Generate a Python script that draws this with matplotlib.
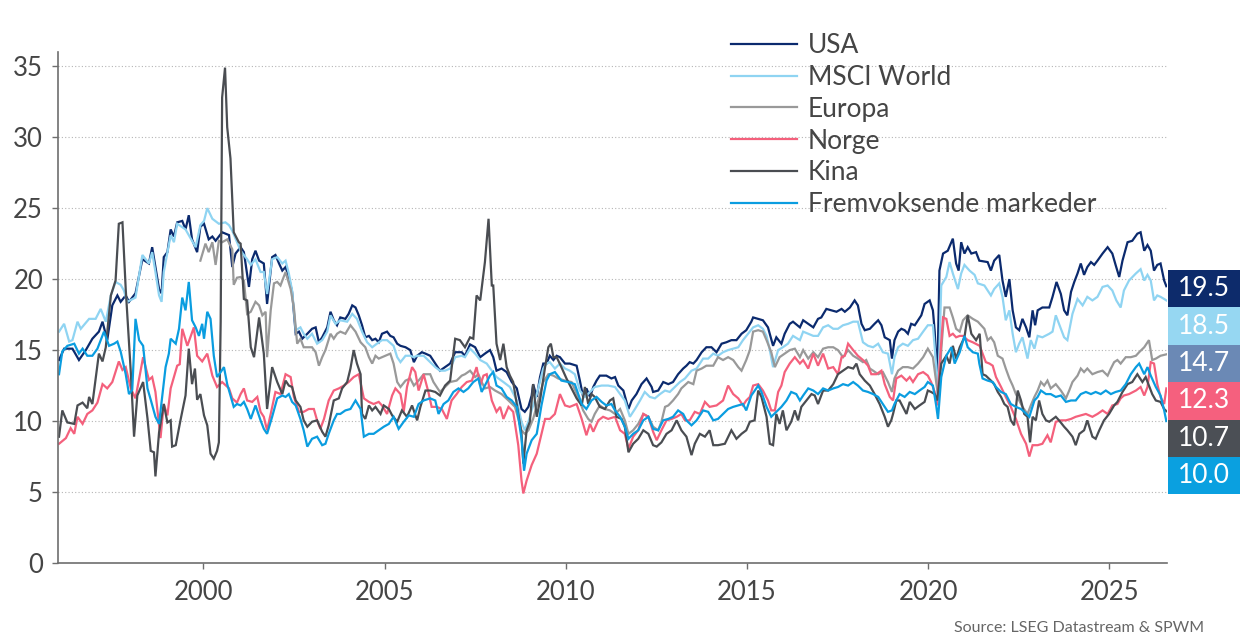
import numpy as np
import matplotlib
matplotlib.use("Agg")
import matplotlib.pyplot as plt
from matplotlib.patches import Rectangle
from matplotlib.lines import Line2D

plt.rcParams['font.family'] = ['Lato', 'DejaVu Sans']
plt.rcParams['font.weight'] = 'normal'

# series: (decimal year, P/E)
usa = [(1996.02,14.3),(1996.16,15.1),(1996.39,15.1),(1996.57,14.3),(1996.76,15.0),(1996.94,15.8),(1997.12,16.3),(1997.22,17.0),(1997.35,15.7),(1997.49,18.15),(1997.63,18.85),(1997.72,18.4),(1997.86,18.85),(1997.95,18.4),(1998.13,19.0),(1998.32,21.4),(1998.50,21.1),(1998.59,22.25),(1998.68,20.85),(1998.78,19.3),(1998.85,19.0),(1998.91,21.55),(1999.01,21.9),(1999.10,23.5),(1999.19,23.0),(1999.28,24.0),(1999.42,24.1),(1999.51,23.5),(1999.60,24.5),(1999.69,22.8),(1999.83,21.9),(1999.92,23.7),(2000.02,23.9),(2000.15,22.8),(2000.25,23.0),(2000.34,22.7),(2000.52,23.3),(2000.71,23.1),(2000.80,20.85),(2000.89,21.8),
       (2001.03,22.25),(2001.12,21.9),(2001.26,19.45),(2001.35,21.4),(2001.44,22.0),(2001.54,21.3),(2001.67,21.1),(2001.76,18.25),(2001.90,21.55),(2001.99,21.7),(2002.09,21.1),(2002.18,20.6),(2002.27,20.85),(2002.36,20.15),(2002.45,19.1),(2002.55,16.15),(2002.64,16.3),(2002.73,15.8),(2002.87,16.15),(2003.00,16.5),(2003.10,16.6),(2003.19,15.55),(2003.28,15.9),(2003.42,16.6),(2003.51,17.7),(2003.60,17.1),(2003.69,16.75),(2003.78,17.3),(2003.92,17.2),(2004.01,17.55),(2004.11,18.15),(2004.20,18.0),(2004.29,17.45),(2004.38,16.75),(2004.47,15.9),(2004.57,16.0),(2004.66,15.7),(2004.75,15.8),(2004.84,15.55),(2004.93,16.15),(2005.07,16.3),(2005.16,16.0),(2005.25,15.9),(2005.35,15.45),(2005.44,15.3),(2005.58,15.2),(2005.71,15.0),(2005.81,14.15),(2005.90,14.6),(2006.03,14.85),(2006.13,14.75),
       (2006.26,14.6),(2006.40,14.05),(2006.53,13.55),(2006.67,13.8),(2006.81,14.05),(2006.95,14.85),(2007.13,14.85),(2007.22,14.6),(2007.36,15.4),(2007.50,15.2),(2007.64,14.5),(2007.77,14.75),(2007.91,15.0),(2008.00,14.5),(2008.09,13.55),(2008.23,13.7),(2008.37,13.45),(2008.51,12.75),(2008.65,12.3),(2008.78,10.85),(2008.87,10.65),(2008.97,11.0),(2009.06,11.8),(2009.10,12.6),(2009.20,11.7),(2009.29,13.1),(2009.38,14.05),(2009.47,14.05),(2009.56,14.6),(2009.66,14.3),(2009.75,14.6),(2009.84,14.5),(2009.98,14.05),(2010.11,14.05),(2010.30,13.9),(2010.39,12.85),(2010.48,11.7),(2010.57,12.3),(2010.67,11.7),(2010.76,12.4),(2010.85,12.85),(2010.94,13.2),(2011.12,13.2),(2011.26,13.0),
       (2011.36,13.1),(2011.45,12.5),(2011.59,12.15),(2011.73,10.85),(2011.82,11.45),(2011.95,11.9),(2012.09,12.6),(2012.23,13.0),(2012.37,12.4),(2012.41,12.05),(2012.55,12.15),(2012.69,12.75),(2012.83,12.6),(2012.96,12.75),(2013.10,13.3),(2013.24,13.7),(2013.33,13.9),(2013.42,14.15),(2013.52,14.05),(2013.61,14.3),(2013.75,14.85),(2013.88,15.2),(2014.02,15.2),(2014.16,14.85),(2014.30,15.45),(2014.43,15.55),(2014.57,15.7),(2014.71,15.7),(2014.85,16.15),(2014.98,16.4),(2015.12,17.0),(2015.17,17.3),(2015.31,17.2),(2015.44,17.1),(2015.58,16.6),(2015.72,15.3),(2015.81,15.9),(2015.95,15.45),(2016.04,16.15),(2016.18,16.85),(2016.27,17.0),
       (2016.46,16.6),(2016.55,17.1),(2016.69,16.85),(2016.83,16.6),(2016.96,17.2),(2017.05,17.3),(2017.19,17.9),(2017.33,17.8),(2017.47,17.7),(2017.61,17.9),(2017.70,17.7),(2017.84,18.0),(2017.97,18.5),(2018.06,18.15),(2018.16,16.85),(2018.25,16.4),(2018.39,16.5),(2018.52,16.85),(2018.62,17.1),(2018.71,16.75),(2018.80,15.9),(2018.94,15.7),(2019.00,14.4),(2019.07,15.7),(2019.17,16.3),(2019.26,16.5),(2019.35,16.4),(2019.44,16.15),(2019.53,16.85),(2019.63,16.75),(2019.72,17.1),(2019.81,17.45),(2019.90,18.25),(2020.04,18.5),(2020.13,17.8),(2020.18,16.3),(2020.25,12.85),(2020.31,20.6),(2020.41,21.8),(2020.54,22.0),(2020.68,22.85),(2020.77,21.1),(2020.84,20.6),(2020.91,22.6),(2021.00,21.8),(2021.09,22.25),(2021.19,21.8),(2021.32,21.9),
       (2021.41,21.3),(2021.64,21.2),(2021.73,20.6),(2021.82,21.3),(2021.96,21.7),(2022.05,19.9),(2022.14,18.75),(2022.24,20.0),(2022.33,17.8),(2022.42,16.6),(2022.51,16.4),(2022.60,17.2),(2022.70,16.6),(2022.79,15.9),(2022.88,17.8),(2022.95,16.75),(2023.02,17.8),(2023.15,18.0),(2023.34,18.0),(2023.43,18.75),(2023.54,19.8),(2023.66,18.95),(2023.75,17.8),(2023.84,17.45),(2023.94,19.1),(2024.03,19.8),(2024.12,20.4),(2024.21,21.1),(2024.30,20.3),(2024.39,20.85),(2024.49,21.2),(2024.58,21.0),(2024.67,21.3),(2024.81,21.8),(2024.95,22.25),(2025.08,21.8),(2025.17,21.0),(2025.27,20.15),(2025.36,21.3),(2025.50,22.6),(2025.63,22.7),(2025.77,23.2),(2025.86,23.3),(2025.96,22.0),(2026.05,22.4),(2026.14,22.0),(2026.23,20.6),(2026.32,21.0),(2026.41,21.1),(2026.51,19.9),(2026.57,19.5)]

msci_world = [(1996.02,16.3),(1996.16,16.85),(1996.30,15.6),(1996.39,15.7),(1996.53,17.0),(1996.62,16.5),(1996.85,17.2),(1997.03,17.2),(1997.17,17.9),(1997.31,17.0),(1997.45,18.85),(1997.58,19.8),(1997.72,19.6),(1997.81,19.2),(1997.90,18.4),(1998.13,18.7),(1998.32,21.7),(1998.50,21.1),(1998.59,21.9),(1998.68,20.5),(1998.78,18.85),(1998.85,18.4),(1998.91,20.5),(1999.10,23.1),(1999.19,22.6),(1999.28,23.9),(1999.51,23.5),(1999.69,22.7),(1999.79,22.25),(1999.92,23.8),(2000.02,24.1),(2000.11,25.0),(2000.25,24.25),(2000.43,23.9),(2000.61,24.0),(2000.71,23.8),(2000.80,23.4),(2000.93,22.6),
              (2001.03,22.0),(2001.21,21.4),(2001.31,21.0),(2001.44,21.4),(2001.58,20.5),(2001.67,20.5),(2001.76,18.95),(2001.90,21.4),(2002.04,21.55),(2002.18,21.1),(2002.27,21.3),(2002.36,20.4),(2002.45,19.2),(2002.55,16.4),(2002.68,16.6),(2002.77,16.15),(2002.87,15.8),(2003.00,16.15),(2003.14,15.45),(2003.28,15.7),(2003.42,16.3),(2003.51,17.45),(2003.65,16.85),(2003.78,17.1),(2003.97,17.0),(2004.11,17.55),(2004.24,17.2),(2004.38,16.3),(2004.52,15.55),(2004.66,15.2),(2004.79,15.45),(2004.93,15.7),(2005.07,15.7),(2005.25,15.3),(2005.35,14.5),(2005.44,14.15),(2005.58,14.6),(2005.71,14.6),(2005.81,14.5),(2005.90,14.6),(2006.08,14.6),
              (2006.26,14.15),(2006.40,13.8),(2006.53,13.55),(2006.67,13.55),(2006.81,13.7),(2006.95,14.5),(2007.13,14.6),(2007.22,14.5),(2007.36,15.1),(2007.50,14.75),(2007.64,14.3),(2007.82,14.05),(2007.96,13.55),(2008.09,13.1),(2008.28,12.75),(2008.46,12.4),(2008.65,11.45),(2008.78,9.95),(2008.87,9.35),(2008.97,9.95),(2009.06,10.75),(2009.20,11.9),(2009.38,13.7),(2009.47,14.05),(2009.56,14.15),(2009.70,13.7),(2009.84,14.05),(2009.98,13.7),(2010.11,13.55),(2010.25,13.3),(2010.39,12.15),(2010.53,11.7),(2010.67,12.05),(2010.80,12.4),(2010.99,12.5),(2011.17,12.5),
              (2011.36,12.4),(2011.50,11.9),(2011.63,11.45),(2011.77,10.3),(2011.91,10.85),(2012.05,11.45),(2012.18,12.05),(2012.32,11.7),(2012.46,11.6),(2012.60,11.9),(2012.74,12.15),(2012.87,12.05),(2013.01,12.4),(2013.15,12.75),(2013.29,13.0),(2013.47,13.55),(2013.61,13.7),(2013.79,14.4),(2013.93,14.4),(2014.07,14.75),(2014.20,14.6),(2014.34,14.85),(2014.48,15.0),(2014.62,15.1),(2014.76,15.2),(2014.89,15.7),(2015.03,16.15),(2015.17,16.6),(2015.31,16.75),(2015.44,16.5),(2015.54,16.0),(2015.63,15.0),(2015.72,13.8),(2015.86,15.0),(2015.99,15.2),(2016.13,15.45),(2016.27,16.0),
              (2016.46,15.7),(2016.55,16.3),(2016.69,16.15),(2016.83,16.0),(2016.96,16.0),(2017.10,16.6),(2017.24,16.75),(2017.38,16.5),(2017.51,16.5),(2017.65,16.75),(2017.79,16.85),(2017.93,17.0),(2018.06,17.0),(2018.20,15.55),(2018.34,15.3),(2018.48,15.2),(2018.62,15.45),(2018.75,14.85),(2018.89,14.75),(2019.00,13.3),(2019.07,14.5),(2019.17,15.2),(2019.30,15.45),(2019.44,15.3),(2019.58,15.7),(2019.72,15.8),(2019.86,16.3),(2019.99,16.75),(2020.13,16.75),(2020.22,13.9),(2020.27,11.5),(2020.36,19.55),(2020.50,20.15),(2020.59,21.2),(2020.68,20.4),(2020.82,19.3),(2020.91,20.4),(2021.00,21.0),(2021.14,20.6),(2021.28,20.3),(2021.37,19.7),
              (2021.55,19.55),(2021.73,18.85),(2021.82,19.3),(2021.96,19.7),(2022.05,18.75),(2022.14,17.1),(2022.24,17.8),(2022.33,16.15),(2022.42,14.85),(2022.51,15.45),(2022.60,15.9),(2022.74,14.4),(2022.83,15.7),(2022.93,15.1),(2023.02,16.0),(2023.15,15.9),(2023.34,16.15),(2023.43,16.3),(2023.52,17.45),(2023.61,16.85),(2023.75,15.9),(2023.84,15.7),(2023.98,17.55),(2024.12,18.6),(2024.26,18.15),(2024.39,18.75),(2024.53,18.5),(2024.67,18.75),(2024.81,19.45),(2024.95,19.55),(2025.08,19.2),(2025.19,18.5),(2025.31,18.0),(2025.40,19.2),(2025.54,19.9),(2025.73,20.4),(2025.86,20.7),(2025.96,19.9),(2026.05,20.3),(2026.14,19.9),(2026.23,18.5),(2026.32,18.85),(2026.41,18.75),(2026.51,18.6),(2026.57,18.5)]

europa = [(1999.92,21.3),(2000.06,22.5),(2000.15,21.9),(2000.25,22.6),(2000.34,21.0),(2000.43,22.7),(2000.52,22.6),(2000.66,22.8),(2000.80,22.1),(2000.84,19.6),(2000.93,20.1),
          (2001.03,20.15),(2001.12,19.9),(2001.21,17.55),(2001.31,17.7),(2001.44,18.4),(2001.54,18.15),(2001.63,17.45),(2001.72,17.7),(2001.76,14.5),(2001.86,17.8),(2001.95,19.7),(2002.04,19.8),(2002.13,19.55),(2002.27,20.5),(2002.41,19.3),(2002.50,18.0),(2002.59,15.45),(2002.68,15.8),(2002.77,15.2),(2003.00,15.2),(2003.10,14.85),(2003.19,13.9),(2003.28,14.5),(2003.37,15.0),(2003.51,16.15),(2003.60,15.8),(2003.69,16.15),(2003.78,16.3),(2003.92,16.15),(2004.06,16.75),(2004.20,16.3),(2004.34,15.55),(2004.47,15.2),(2004.57,14.5),(2004.66,14.05),(2004.75,14.6),(2004.84,14.4),(2004.93,14.5),(2005.02,14.6),(2005.16,14.75),(2005.25,14.05),(2005.35,12.75),(2005.44,12.4),(2005.58,12.85),(2005.71,13.0),(2005.81,12.5),(2005.94,12.85),(2006.08,13.3),
          (2006.26,13.3),(2006.35,12.75),(2006.53,12.05),(2006.67,12.4),(2006.81,12.75),(2006.99,12.85),(2007.13,13.2),(2007.22,13.3),(2007.36,13.55),(2007.50,13.1),(2007.59,13.3),(2007.68,12.75),(2007.77,12.3),(2007.91,12.4),(2008.05,12.15),(2008.23,11.9),(2008.42,11.45),(2008.60,11.0),(2008.78,9.35),(2008.87,9.1),(2008.97,9.35),(2009.10,10.15),(2009.24,11.45),(2009.38,12.75),(2009.52,13.3),(2009.66,13.2),(2009.79,13.0),(2009.98,12.85),(2010.16,12.75),(2010.34,11.7),(2010.48,10.75),(2010.62,10.15),(2010.71,9.95),(2010.80,10.5),(2010.94,11.1),(2011.08,10.85),(2011.22,10.75),
          (2011.36,10.5),(2011.50,10.85),(2011.63,10.05),(2011.73,9.1),(2011.86,9.35),(2012.00,9.8),(2012.14,10.5),(2012.28,10.3),(2012.41,9.6),(2012.55,9.35),(2012.64,9.95),(2012.74,11.0),(2012.83,11.1),(2012.96,11.45),(2013.10,11.9),(2013.19,12.3),(2013.38,12.75),(2013.52,12.6),(2013.61,13.55),(2013.75,13.7),(2013.88,13.9),(2014.07,13.9),(2014.20,14.5),(2014.34,14.3),(2014.48,14.5),(2014.62,14.3),(2014.76,13.8),(2014.85,13.55),(2014.98,14.3),(2015.08,15.0),(2015.17,16.3),(2015.31,16.4),(2015.44,16.3),(2015.54,15.7),(2015.67,14.85),(2015.77,13.8),(2015.90,14.5),(2016.04,14.75),(2016.18,15.0),(2016.32,15.1),
          (2016.46,14.5),(2016.55,15.0),(2016.69,14.4),(2016.83,14.85),(2016.96,14.5),(2017.10,15.1),(2017.24,15.2),(2017.38,15.2),(2017.51,15.0),(2017.65,14.5),(2017.79,15.0),(2017.93,14.6),(2018.06,14.4),(2018.20,14.15),(2018.29,14.3),(2018.39,13.7),(2018.48,13.55),(2018.62,13.3),(2018.75,13.45),(2018.89,12.75),(2019.00,12.05),(2019.07,13.0),(2019.17,13.55),(2019.30,13.8),(2019.44,13.8),(2019.58,13.7),(2019.72,14.05),(2019.86,14.5),(2019.99,15.1),(2020.13,14.5),(2020.22,12.75),(2020.29,11.45),(2020.36,15.0),(2020.45,18.0),(2020.59,18.0),(2020.68,17.3),(2020.77,16.5),(2020.87,16.3),(2020.96,17.1),(2021.09,17.45),(2021.23,17.2),(2021.37,17.0),
          (2021.55,16.5),(2021.64,15.7),(2021.73,15.9),(2021.82,15.55),(2021.92,14.6),(2022.05,14.4),(2022.14,13.7),(2022.24,13.0),(2022.33,12.5),(2022.42,11.9),(2022.51,11.45),(2022.60,11.0),(2022.74,10.5),(2022.83,11.1),(2022.93,11.7),(2023.02,12.15),(2023.11,12.75),(2023.20,12.5),(2023.29,12.85),(2023.38,12.3),(2023.52,12.6),(2023.66,12.15),(2023.80,11.6),(2023.89,12.15),(2023.98,12.75),(2024.12,13.2),(2024.21,13.7),(2024.30,13.45),(2024.39,13.7),(2024.53,13.3),(2024.67,13.45),(2024.81,13.55),(2024.95,13.2),(2025.04,13.7),(2025.13,14.15),(2025.22,14.3),(2025.31,14.05),(2025.45,14.5),(2025.59,14.5),(2025.73,14.6),(2025.82,14.85),(2025.96,15.2),(2026.09,15.7),(2026.18,14.3),(2026.28,14.4),(2026.41,14.6),(2026.57,14.7)]

norge = [(1996.02,8.4),(1996.21,8.8),(1996.34,9.5),(1996.44,9.1),(1996.53,10.3),(1996.67,9.8),(1996.80,10.5),(1996.94,10.75),(1997.08,11.3),(1997.22,12.6),(1997.35,12.3),(1997.49,12.75),(1997.67,14.2),(1997.77,13.6),(1997.86,13.8),(1998.00,12.3),(1998.13,11.6),(1998.34,14.5),(1998.50,12.9),(1998.59,13.1),(1998.68,12.05),(1998.82,8.8),(1998.91,11.2),(1999.01,10.4),(1999.10,12.3),(1999.28,13.9),(1999.35,14.0),(1999.42,16.5),(1999.56,15.3),(1999.74,16.6),(1999.83,14.6),(1999.97,14.2),(2000.11,14.75),(2000.25,13.2),(2000.38,12.4),(2000.52,12.75),(2000.71,12.3),(2000.80,11.6),(2000.93,11.3),
         (2001.03,11.9),(2001.12,12.3),(2001.21,11.45),(2001.35,11.35),(2001.49,11.7),(2001.58,10.65),(2001.67,10.3),(2001.76,9.35),(2001.86,10.5),(2001.99,12.05),(2002.13,11.9),(2002.27,13.3),(2002.41,13.1),(2002.50,11.7),(2002.64,10.65),(2002.77,10.65),(2002.91,10.85),(2003.05,10.85),(2003.14,10.05),(2003.23,9.45),(2003.33,10.15),(2003.46,11.45),(2003.60,12.15),(2003.74,12.3),(2003.88,12.5),(2004.01,12.75),(2004.15,13.1),(2004.29,13.3),(2004.43,11.6),(2004.57,11.35),(2004.70,11.2),(2004.84,11.35),(2004.93,11.1),(2005.07,10.5),(2005.21,11.8),(2005.30,12.3),(2005.44,11.9),(2005.53,10.65),(2005.62,12.4),(2005.76,13.8),(2005.85,13.45),(2005.94,12.15),(2006.08,13.3),
         (2006.21,12.05),(2006.30,11.0),(2006.44,11.0),(2006.58,10.85),(2006.72,10.15),(2006.85,11.45),(2006.99,11.9),(2007.13,12.4),(2007.27,12.75),(2007.41,12.85),(2007.54,13.8),(2007.64,12.5),(2007.73,13.2),(2007.82,13.3),(2007.96,11.45),(2008.09,10.65),(2008.19,11.0),(2008.28,10.15),(2008.42,11.0),(2008.55,10.65),(2008.69,8.3),(2008.78,5.8),(2008.83,4.9),(2008.92,5.8),(2009.06,6.9),(2009.20,7.7),(2009.33,9.1),(2009.43,10.15),(2009.56,10.15),(2009.70,10.5),(2009.84,11.9),(2009.98,11.1),(2010.11,11.0),(2010.30,11.2),(2010.44,10.15),(2010.57,9.0),(2010.67,9.8),(2010.76,9.25),(2010.90,10.05),(2011.03,10.3),(2011.17,10.15),
         (2011.36,10.3),(2011.50,9.35),(2011.63,9.1),(2011.73,8.05),(2011.86,8.9),(2012.00,9.35),(2012.14,10.5),(2012.28,10.3),(2012.41,9.25),(2012.51,8.65),(2012.64,9.35),(2012.78,10.05),(2012.92,10.15),(2013.06,10.3),(2013.19,10.5),(2013.29,10.05),(2013.42,10.05),(2013.56,10.65),(2013.70,10.5),(2013.84,11.35),(2013.97,11.0),(2014.16,11.1),(2014.34,11.45),(2014.48,12.5),(2014.62,11.9),(2014.76,11.6),(2014.89,11.1),(2014.98,11.45),(2015.08,11.7),(2015.17,12.5),(2015.31,12.6),(2015.44,12.15),(2015.58,11.45),(2015.67,10.75),(2015.77,10.75),(2015.86,12.05),(2015.95,12.5),(2016.04,13.45),(2016.18,14.05),(2016.32,14.5),
         (2016.46,14.05),(2016.55,14.3),(2016.69,13.7),(2016.83,14.75),(2016.96,13.9),(2017.10,14.75),(2017.24,13.7),(2017.38,13.8),(2017.51,13.3),(2017.61,14.5),(2017.70,14.6),(2017.79,15.45),(2017.93,15.0),(2018.06,14.6),(2018.20,14.3),(2018.34,13.9),(2018.43,13.3),(2018.57,13.3),(2018.71,13.55),(2018.80,12.6),(2018.94,11.7),(2019.03,11.45),(2019.12,13.0),(2019.26,13.2),(2019.40,12.85),(2019.49,13.1),(2019.58,12.75),(2019.72,13.3),(2019.86,13.45),(2019.99,13.2),(2020.08,12.75),(2020.18,12.05),(2020.25,11.1),(2020.31,13.8),(2020.41,17.3),(2020.50,17.2),(2020.59,16.0),(2020.68,16.15),(2020.77,15.9),(2020.87,16.0),(2020.96,16.0),(2021.09,15.7),(2021.23,15.55),(2021.42,15.3),
         (2021.50,14.75),(2021.59,14.15),(2021.69,14.05),(2021.78,13.9),(2021.87,13.1),(2022.01,12.4),(2022.14,11.7),(2022.28,11.0),(2022.42,10.15),(2022.56,9.1),(2022.70,8.4),(2022.79,7.5),(2022.88,8.3),(2023.02,8.3),(2023.15,8.4),(2023.29,9.0),(2023.38,8.5),(2023.52,9.95),(2023.66,10.05),(2023.80,10.05),(2023.94,10.15),(2024.07,10.3),(2024.21,10.4),(2024.35,10.5),(2024.53,10.3),(2024.67,10.5),(2024.81,10.75),(2024.95,10.5),(2025.08,11.1),(2025.22,11.2),(2025.31,11.6),(2025.40,11.8),(2025.54,11.9),(2025.73,12.15),(2025.86,12.4),(2025.96,11.8),(2026.05,12.4),(2026.14,14.15),(2026.23,14.05),(2026.32,12.6),(2026.41,11.7),(2026.51,11.2),(2026.57,12.3)]

kina = [(1996.02,8.9),(1996.11,10.75),(1996.25,9.9),(1996.44,9.8),(1996.53,11.1),(1996.67,11.3),(1996.80,10.9),(1996.85,11.7),(1996.94,11.2),(1997.03,13.0),(1997.12,14.75),(1997.22,14.2),(1997.31,15.2),(1997.45,18.85),(1997.58,19.9),(1997.67,23.9),(1997.77,24.0),(1997.86,19.3),(1998.00,13.45),(1998.09,8.9),(1998.18,11.8),(1998.34,12.75),(1998.46,10.2),(1998.55,7.9),(1998.64,7.8),(1998.68,6.1),(1998.78,9.2),(1998.91,11.2),(1999.01,9.9),(1999.10,10.05),(1999.14,8.2),(1999.24,8.3),(1999.37,10.05),(1999.51,11.8),(1999.60,15.1),(1999.69,12.6),(1999.77,13.7),(1999.83,11.5),(1999.92,11.9),(2000.02,10.4),(2000.11,9.7),(2000.20,7.7),(2000.29,7.35),(2000.38,7.9),(2000.43,8.5),(2000.48,17.0),(2000.52,32.8),(2000.60,34.9),(2000.66,30.7),(2000.75,28.5),(2000.84,23.3),(2000.98,22.6),
        (2001.03,22.5),(2001.12,18.6),(2001.21,18.5),(2001.31,15.2),(2001.40,14.5),(2001.54,17.3),(2001.67,14.75),(2001.76,10.85),(2001.90,13.8),(2002.04,12.75),(2002.18,11.9),(2002.27,12.85),(2002.36,12.5),(2002.45,12.4),(2002.55,11.45),(2002.68,11.0),(2002.77,10.05),(2002.87,9.6),(2003.00,9.95),(2003.14,10.05),(2003.28,9.25),(2003.37,8.9),(2003.46,9.7),(2003.60,11.45),(2003.74,11.6),(2003.83,12.3),(2003.97,12.75),(2004.06,13.7),(2004.15,15.0),(2004.24,14.05),(2004.34,13.3),(2004.38,10.5),(2004.47,10.15),(2004.57,11.1),(2004.66,10.75),(2004.75,11.0),(2004.89,10.5),(2004.98,11.1),(2005.12,10.85),(2005.21,10.4),(2005.35,9.95),(2005.48,10.75),(2005.62,10.3),(2005.76,11.1),(2005.90,10.05),(2005.99,11.0),(2006.13,12.15),
        (2006.26,12.15),(2006.40,12.05),(2006.53,11.8),(2006.67,12.5),(2006.81,12.85),(2006.95,15.8),(2007.08,15.7),(2007.22,15.2),(2007.36,15.9),(2007.45,15.8),(2007.54,18.85),(2007.64,18.5),(2007.77,21.2),(2007.87,24.25),(2007.96,19.55),(2008.00,19.55),(2008.09,15.45),(2008.19,14.3),(2008.28,15.45),(2008.37,13.8),(2008.46,13.2),(2008.55,12.75),(2008.69,10.5),(2008.78,9.1),(2008.83,7.0),(2008.92,9.35),(2009.01,9.95),(2009.10,12.6),(2009.20,10.3),(2009.29,11.45),(2009.43,13.8),(2009.52,15.2),(2009.59,15.45),(2009.66,14.5),(2009.75,14.5),(2009.88,13.8),(2010.02,13.0),(2010.16,12.3),(2010.30,11.6),(2010.44,11.1),(2010.53,12.4),(2010.62,11.2),(2010.71,11.9),(2010.80,11.7),(2010.94,11.0),(2011.08,10.85),(2011.22,11.45),
        (2011.31,11.6),(2011.40,10.3),(2011.54,10.15),(2011.63,9.6),(2011.73,7.8),(2011.86,8.4),(2012.00,8.75),(2012.14,9.35),(2012.28,9.1),(2012.41,8.3),(2012.51,8.2),(2012.64,8.5),(2012.78,9.1),(2012.92,9.35),(2013.06,10.05),(2013.19,9.35),(2013.33,8.9),(2013.47,7.6),(2013.56,8.4),(2013.70,9.1),(2013.84,8.9),(2013.97,9.35),(2014.07,8.3),(2014.20,8.3),(2014.39,8.4),(2014.57,9.35),(2014.71,8.75),(2014.85,9.1),(2014.98,9.35),(2015.08,9.95),(2015.21,10.05),(2015.31,12.15),(2015.40,11.7),(2015.54,10.3),(2015.63,8.4),(2015.72,8.3),(2015.81,10.5),(2015.90,9.8),(2015.99,10.75),(2016.09,9.35),(2016.22,9.95),(2016.32,10.75),
        (2016.41,10.05),(2016.50,11.0),(2016.64,11.45),(2016.78,11.9),(2016.87,11.8),(2016.96,11.2),(2017.10,12.15),(2017.24,12.15),(2017.38,12.6),(2017.51,13.3),(2017.65,13.55),(2017.79,13.8),(2017.93,13.7),(2018.02,14.05),(2018.11,13.3),(2018.25,12.85),(2018.39,12.5),(2018.52,11.9),(2018.66,11.2),(2018.80,10.3),(2018.89,9.6),(2018.98,10.05),(2019.03,10.5),(2019.12,11.45),(2019.21,11.45),(2019.30,11.0),(2019.40,10.5),(2019.49,11.35),(2019.63,10.85),(2019.76,11.1),(2019.90,11.35),(2019.99,12.15),(2020.08,12.05),(2020.18,11.9),(2020.25,11.45),(2020.36,14.05),(2020.50,14.6),(2020.59,14.05),(2020.68,15.3),(2020.77,14.4),(2020.87,15.2),(2021.00,15.9),(2021.09,17.45),(2021.19,16.15),(2021.32,15.7),(2021.42,16.15),
        (2021.50,13.3),(2021.59,13.2),(2021.73,12.85),(2021.82,12.6),(2021.92,12.05),(2022.01,11.7),(2022.10,11.2),(2022.19,11.0),(2022.28,10.05),(2022.37,9.7),(2022.47,12.15),(2022.56,11.45),(2022.65,10.5),(2022.74,10.3),(2022.81,8.5),(2022.88,10.3),(2022.97,10.05),(2023.06,11.45),(2023.15,10.5),(2023.25,10.05),(2023.34,9.95),(2023.52,10.3),(2023.61,10.05),(2023.75,9.6),(2023.84,9.35),(2023.98,8.9),(2024.07,8.3),(2024.17,9.1),(2024.30,9.35),(2024.39,10.05),(2024.53,8.9),(2024.62,8.75),(2024.72,9.35),(2024.85,10.05),(2024.99,10.5),(2025.13,11.1),(2025.22,11.35),(2025.36,12.05),(2025.50,12.6),(2025.63,12.75),(2025.77,13.3),(2025.91,12.75),(2026.00,13.1),(2026.09,12.5),(2026.18,11.9),(2026.28,11.45),(2026.41,11.35),(2026.51,10.85),(2026.57,10.7)]

fremvoksende = [(1996.02,13.3),(1996.11,14.9),(1996.25,15.3),(1996.44,15.45),(1996.57,14.75),(1996.67,15.1),(1996.80,14.6),(1996.94,14.6),(1997.08,15.1),(1997.26,16.3),(1997.40,15.3),(1997.54,15.45),(1997.63,15.6),(1997.72,14.9),(1997.86,13.3),(1997.95,11.9),(1998.04,12.2),(1998.13,17.2),(1998.23,15.7),(1998.34,15.3),(1998.46,12.3),(1998.55,11.5),(1998.68,10.3),(1998.78,9.8),(1998.87,11.8),(1998.96,13.8),(1999.05,14.75),(1999.10,15.8),(1999.24,15.45),(1999.33,16.5),(1999.42,18.7),(1999.51,17.8),(1999.60,19.8),(1999.69,17.1),(1999.79,16.6),(1999.88,16.0),(1999.97,16.85),(2000.02,15.8),(2000.11,17.7),(2000.20,17.2),(2000.29,14.6),(2000.38,13.1),(2000.48,13.45),(2000.57,13.8),(2000.66,12.6),(2000.75,11.8),(2000.84,11.0),(2000.93,11.2),
                (2001.03,11.1),(2001.12,11.35),(2001.21,10.85),(2001.31,10.15),(2001.44,11.1),(2001.58,10.05),(2001.67,9.45),(2001.76,9.1),(2001.90,10.3),(2002.04,11.6),(2002.18,11.8),(2002.27,11.7),(2002.36,11.9),(2002.45,11.35),(2002.55,11.1),(2002.68,10.15),(2002.77,9.35),(2002.87,8.2),(2003.00,8.75),(2003.14,8.9),(2003.28,8.3),(2003.37,8.4),(2003.46,9.1),(2003.60,10.05),(2003.69,10.5),(2003.78,10.5),(2003.92,10.75),(2004.06,10.85),(2004.20,11.45),(2004.34,10.85),(2004.43,8.9),(2004.57,9.1),(2004.70,9.1),(2004.84,9.35),(2004.98,9.6),(2005.12,9.8),(2005.25,10.3),(2005.39,9.45),(2005.53,9.95),(2005.67,10.4),(2005.81,10.3),(2005.94,11.2),(2006.08,11.45),
                (2006.26,11.6),(2006.40,11.45),(2006.49,10.5),(2006.63,11.2),(2006.76,11.45),(2006.90,12.05),(2007.04,12.3),(2007.18,12.05),(2007.31,12.3),(2007.45,12.75),(2007.59,13.0),(2007.68,12.05),(2007.77,12.5),(2007.91,13.2),(2008.00,13.45),(2008.09,12.5),(2008.23,12.3),(2008.37,11.7),(2008.51,11.45),(2008.65,11.0),(2008.78,8.75),(2008.85,6.5),(2008.92,7.7),(2009.06,8.65),(2009.20,9.1),(2009.33,11.1),(2009.47,12.85),(2009.56,13.3),(2009.70,13.45),(2009.88,12.85),(2010.07,12.75),(2010.25,12.6),(2010.44,11.2),(2010.57,10.85),(2010.71,11.45),(2010.85,11.7),(2010.99,11.35),(2011.12,11.1),(2011.26,11.2),
                (2011.36,10.75),(2011.50,10.3),(2011.63,9.6),(2011.73,8.75),(2011.86,9.1),(2012.00,9.35),(2012.14,10.05),(2012.28,10.3),(2012.41,9.45),(2012.55,9.35),(2012.69,10.05),(2012.83,10.15),(2012.96,10.3),(2013.10,10.75),(2013.24,10.5),(2013.33,10.05),(2013.47,9.7),(2013.61,10.05),(2013.79,10.75),(2013.93,10.65),(2014.07,10.05),(2014.20,10.15),(2014.34,10.5),(2014.48,10.85),(2014.62,11.0),(2014.76,11.1),(2014.89,11.2),(2014.98,10.75),(2015.12,11.8),(2015.31,12.5),(2015.40,12.05),(2015.54,11.0),(2015.67,10.3),(2015.81,10.65),(2015.95,11.0),(2016.09,11.45),(2016.22,12.05),(2016.36,11.9),
                (2016.46,11.45),(2016.55,11.8),(2016.69,12.3),(2016.83,12.15),(2016.96,11.9),(2017.10,12.3),(2017.24,12.15),(2017.38,12.3),(2017.51,12.4),(2017.65,12.6),(2017.79,12.5),(2017.93,12.75),(2018.06,12.5),(2018.20,12.15),(2018.34,12.05),(2018.48,11.9),(2018.62,11.7),(2018.75,11.2),(2018.89,10.65),(2019.00,10.75),(2019.07,11.2),(2019.21,11.9),(2019.35,11.7),(2019.49,12.05),(2019.63,11.9),(2019.76,12.15),(2019.90,12.4),(2019.99,12.75),(2020.13,12.5),(2020.22,11.1),(2020.27,10.15),(2020.36,13.1),(2020.50,14.6),(2020.64,15.2),(2020.73,14.05),(2020.87,14.85),(2021.00,16.0),(2021.09,15.2),(2021.23,14.85),(2021.37,14.75),
                (2021.41,14.05),(2021.50,13.0),(2021.64,12.85),(2021.78,12.75),(2021.87,12.4),(2022.01,12.05),(2022.14,11.9),(2022.28,11.2),(2022.42,11.0),(2022.56,10.85),(2022.65,10.65),(2022.79,10.3),(2022.93,11.45),(2023.02,11.7),(2023.11,12.15),(2023.25,11.9),(2023.38,11.9),(2023.52,11.7),(2023.66,11.8),(2023.80,11.35),(2023.94,11.45),(2024.07,11.45),(2024.21,11.9),(2024.35,12.05),(2024.49,11.9),(2024.62,12.05),(2024.76,11.9),(2024.90,12.15),(2025.04,11.9),(2025.17,12.05),(2025.31,12.15),(2025.45,12.6),(2025.59,13.3),(2025.73,13.8),(2025.82,14.05),(2025.96,13.3),(2026.05,13.8),(2026.14,13.2),(2026.28,12.4),(2026.41,11.8),(2026.51,10.75),(2026.57,10.0)]

names = ['USA', 'MSCI World', 'Europa', 'Norge', 'Kina', 'Fremvoksende markeder']
series = [usa, msci_world, europa, norge, kina, fremvoksende]
line_colors = ['#0b2a6e', '#8fd4f2', '#999999', '#f4607c', '#4a4d52', '#0a9de0']
box_colors = ['#0d2b6b', '#96d7f2', '#6b89b5', '#f5607e', '#4b4f55', '#0aa0e0']
text_color = '#454545'

W, H = 1244, 640
fig = plt.figure(figsize=(W / 100, H / 100), dpi=100)
ax = fig.add_axes([58.3 / W, 1 - 563 / H, 1108.4 / W, 511 / H])

for data, name, col in zip(series, names, line_colors):
    t, v = zip(*data)
    ax.plot(t, v, color=col, lw=1.6, label=name, solid_joinstyle='miter')

ax.set_xlim(1996.0, 2026.58)
ax.set_ylim(0, 36)
ax.set_yticks(range(0, 36, 5))
ax.set_xticks([2000, 2005, 2010, 2015, 2020, 2025])
ax.set_xticklabels(['2000', '2005', '2010', '2015', '2020', '2025'])
for y in range(5, 36, 5):
    ax.axhline(y, color='#b5b5b5', lw=0.8, ls=(0, (1, 2)), zorder=0)

for s in ['top', 'right']:
    ax.spines[s].set_visible(False)
for s in ['left', 'bottom']:
    ax.spines[s].set_color('#6e6e6e')
    ax.spines[s].set_linewidth(1.2)
ax.tick_params(axis='both', colors='#6e6e6e', length=4, width=1.0,
               labelsize=18.5, labelcolor=text_color)
ax.tick_params(axis='y', pad=7)
ax.tick_params(axis='x', pad=8)

handles = [Line2D([0], [0], color=c, lw=1.6) for c in line_colors]
fig.legend(handles, names, loc='upper left', bbox_to_anchor=(731 / W, 1 - 33 / H),
           frameon=False, fontsize=19, handlelength=2.5, handletextpad=0.42,
           labelspacing=0.26, borderpad=0, borderaxespad=0, labelcolor=text_color)

# end value boxes
box_x0, box_w, box_top, box_h = 1167.7, 72.3, 270.0, 37.4
for i, (data, bc) in enumerate(zip(series, box_colors)):
    y0 = box_top + i * box_h
    fig.add_artist(Rectangle((box_x0 / W, 1 - (y0 + box_h) / H), box_w / W, box_h / H,
                             transform=fig.transFigure, facecolor=bc, edgecolor='none'))
    fig.text((box_x0 + box_w / 2) / W, 1 - (y0 + box_h / 2) / H, f'{data[-1][1]:.1f}',
             ha='center', va='center', color='white', fontsize=19)

fig.text(1204 / W, 1 - 628 / H, 'Source: LSEG Datastream & SPWM', ha='right', va='center',
         fontsize=11.5, color='#666666')

fig.savefig('out.png', dpi=100)
